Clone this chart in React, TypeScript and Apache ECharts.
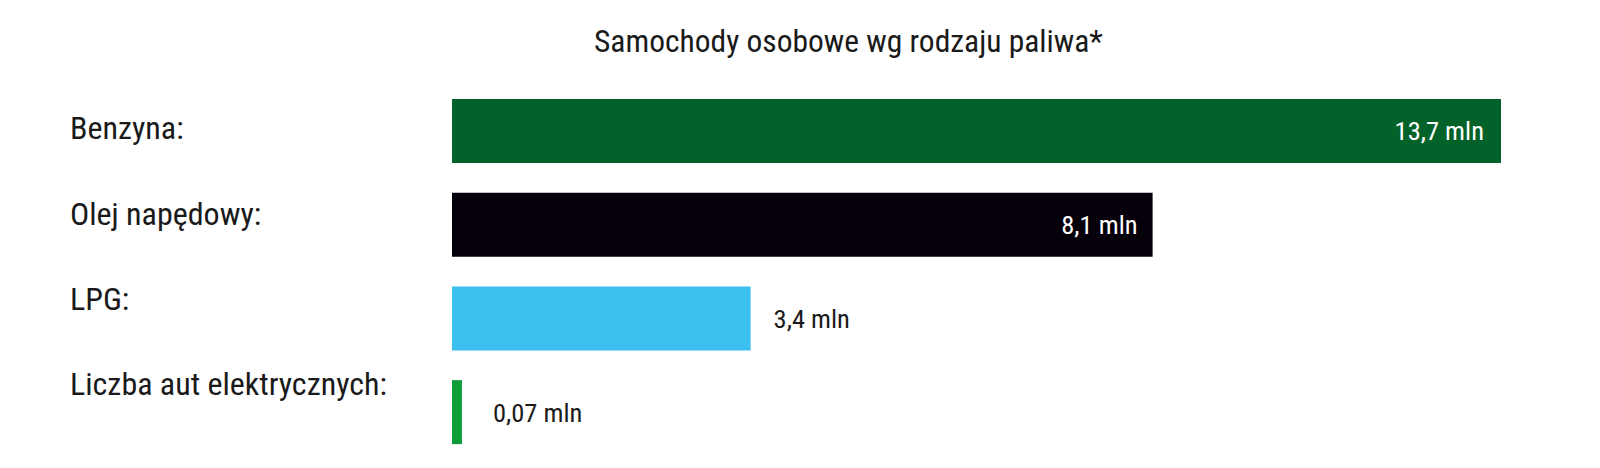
import React, { useEffect, useRef } from 'react';
import * as echarts from 'echarts';

// kategorie i etykiety
const categories = ['Benzyna:', 'Olej napędowy:', 'LPG:', 'Liczba aut elektrycznych:'];
// wartości podpisane przy słupkach (mln)
const valueLabels = ['13,7 mln', '8,1 mln', '3,4 mln', '0,07 mln'];
// długości słupków (oryginał nie trzyma skali)
const barLengths = [13.7, 9.15, 3.9, 0.13];
const barColors = ['#03622a', '#06000a', '#3bbfee', '#0f9d3a'];

const FONT = "'Roboto Condensed', 'Liberation Sans Narrow', 'DejaVu Sans Condensed', Roboto, sans-serif";
const TEXT = '#1a1a1a';

export default function App() {
  const chartRef = useRef<HTMLDivElement>(null);

  useEffect(() => {
    document.body.style.margin = '0';
    if (!chartRef.current) return;
    const chart = echarts.init(chartRef.current, null, { renderer: 'svg' });

    const inside = [true, true, false, false];
    const distances = [17, 15, 23, 31];

    const option: echarts.EChartsOption = {
      animation: false,
      title: {
        text: 'Samochody osobowe wg rodzaju paliwa*',
        left: 594,
        top: 25,
        padding: 0,
        textStyle: { fontFamily: FONT, fontSize: 31.5, fontWeight: 'normal', color: TEXT },
      },
      grid: [
        { left: 452, width: 1049, top: 84, height: 375 },
        { left: 452, width: 1, top: 85.7, height: 341 },
      ],
      xAxis: [
        { type: 'value', gridIndex: 0, min: 0, max: 13.7, show: false },
        { type: 'value', gridIndex: 1, min: 0, max: 1, show: false },
      ],
      yAxis: [
        {
          type: 'category',
          gridIndex: 0,
          inverse: true,
          data: categories,
          show: false,
        },
        {
          type: 'category',
          gridIndex: 1,
          inverse: true,
          data: categories,
          axisLine: { show: false },
          axisTick: { show: false },
          splitLine: { show: false },
          axisLabel: {
            align: 'left',
            margin: 382,
            fontFamily: FONT,
            fontSize: 32,
            color: TEXT,
          },
        },
      ],
      series: [
        {
          type: 'bar',
          xAxisIndex: 0,
          yAxisIndex: 0,
          barWidth: 64,
          data: barLengths.map((v, i) => ({
            value: v,
            itemStyle: { color: barColors[i] },
            label: {
              show: true,
              position: inside[i] ? 'insideRight' : 'right',
              distance: distances[i],
              color: inside[i] ? '#ffffff' : TEXT,
              formatter: () => valueLabels[i],
            },
          })),
          label: { fontFamily: FONT, fontSize: 26.5 },
        },
      ],
    };
    chart.setOption(option);

    const resizeHandler = () => chart.resize();
    window.addEventListener('resize', resizeHandler);
    return () => {
      window.removeEventListener('resize', resizeHandler);
      chart.dispose();
    };
  }, []);

  return <div ref={chartRef} style={{ width: '1600px', height: '468px', background: '#fff' }} />;
}
